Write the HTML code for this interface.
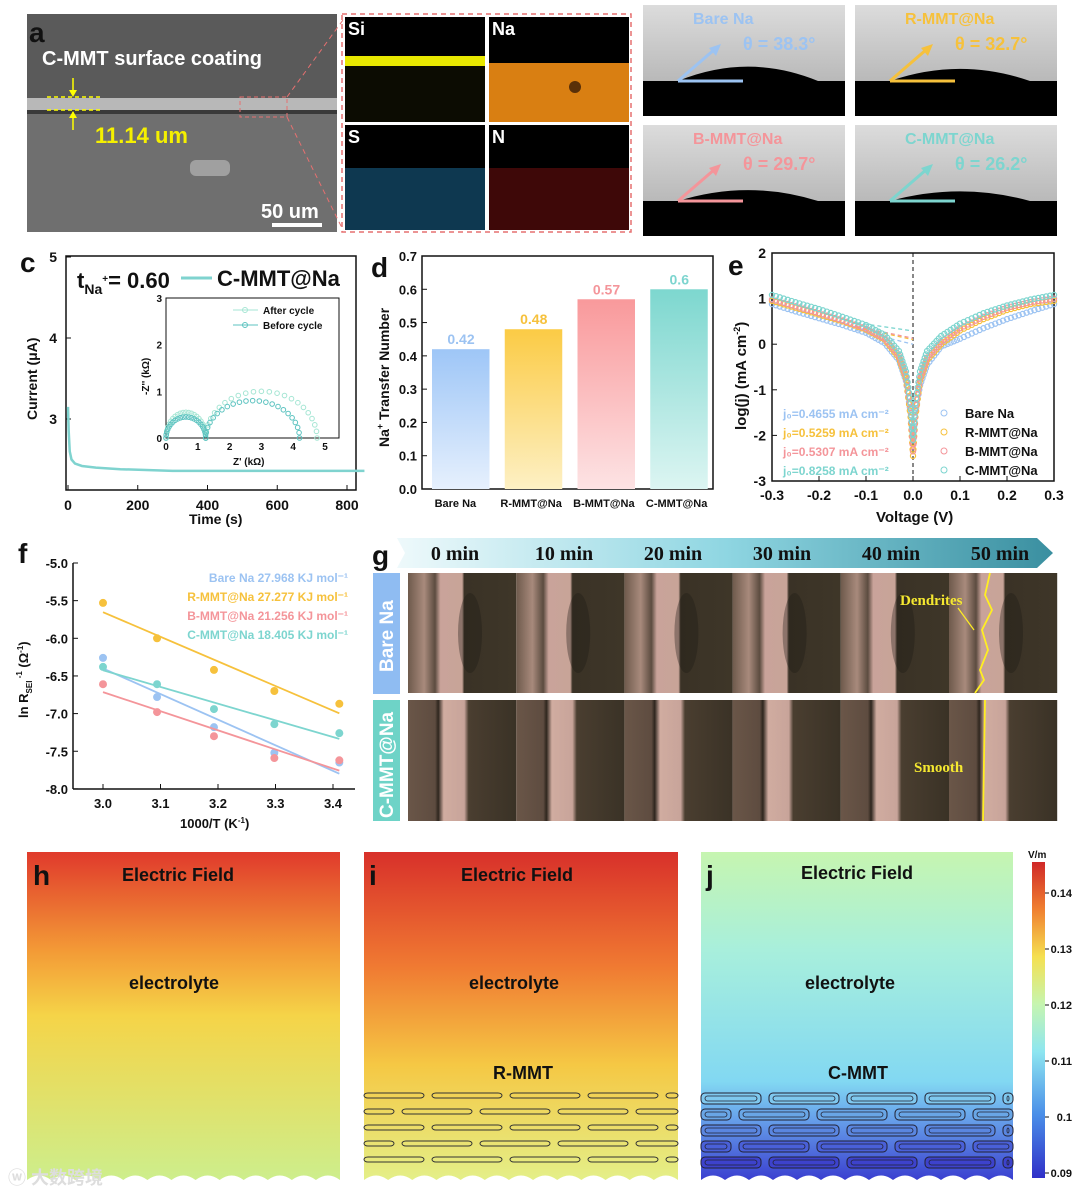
<!DOCTYPE html>
<html><head><meta charset="utf-8">
<style>
html,body{margin:0;padding:0;background:#fff;}
#root{position:relative;width:1080px;height:1195px;overflow:hidden;}
svg text{font-family:"Liberation Sans",sans-serif;font-weight:bold;}
.ser{font-family:"Liberation Serif",serif !important;}
</style></head>
<body>
<div id="root">
<svg id="svg" width="1080" height="1195" viewBox="0 0 1080 1195" xmlns="http://www.w3.org/2000/svg">
<defs>
 <linearGradient id="gBlue" x1="0" y1="0" x2="0" y2="1"><stop offset="0" stop-color="#9ec6f7"/><stop offset="1" stop-color="#e6f0fd"/></linearGradient>
 <linearGradient id="gYel" x1="0" y1="0" x2="0" y2="1"><stop offset="0" stop-color="#fbcb45"/><stop offset="1" stop-color="#fdf0c4"/></linearGradient>
 <linearGradient id="gPink" x1="0" y1="0" x2="0" y2="1"><stop offset="0" stop-color="#f9999b"/><stop offset="1" stop-color="#fde3e4"/></linearGradient>
 <linearGradient id="gTeal" x1="0" y1="0" x2="0" y2="1"><stop offset="0" stop-color="#7dd7cf"/><stop offset="1" stop-color="#dcf5f2"/></linearGradient>
 <linearGradient id="gH" x1="0" y1="0" x2="0" y2="1"><stop offset="0" stop-color="#e03a2c"/><stop offset="0.3" stop-color="#f39a36"/><stop offset="0.5" stop-color="#f5d448"/><stop offset="1" stop-color="#cdee8c"/></linearGradient>
 <linearGradient id="gI" x1="0" y1="0" x2="0" y2="1"><stop offset="0" stop-color="#d8302a"/><stop offset="0.35" stop-color="#f07a32"/><stop offset="0.65" stop-color="#f5c844"/><stop offset="1" stop-color="#e4ef88"/></linearGradient>
 <linearGradient id="gJ" x1="0" y1="0" x2="0" y2="1"><stop offset="0" stop-color="#c6f5b0"/><stop offset="0.3" stop-color="#a8efdc"/><stop offset="0.7" stop-color="#82d8f2"/><stop offset="0.8" stop-color="#6aa8ec"/><stop offset="1" stop-color="#3a3fd0"/></linearGradient>
 <linearGradient id="gCB" x1="0" y1="1" x2="0" y2="0"><stop offset="0" stop-color="#3030c8"/><stop offset="0.2" stop-color="#4a8ee8"/><stop offset="0.4" stop-color="#8ee6f0"/><stop offset="0.55" stop-color="#c6f5b0"/><stop offset="0.7" stop-color="#f5e050"/><stop offset="0.85" stop-color="#f08030"/><stop offset="1" stop-color="#d02828"/></linearGradient>
 <linearGradient id="gArrow" x1="0" y1="0" x2="1" y2="0"><stop offset="0" stop-color="#eef9fb"/><stop offset="0.5" stop-color="#8fd6e2"/><stop offset="1" stop-color="#3a8fa0"/></linearGradient>
 <linearGradient id="gB" x1="0" y1="0" x2="0" y2="1"><stop offset="0" stop-color="#dcdcdc"/><stop offset="1" stop-color="#a9a9a9"/></linearGradient>
 <linearGradient id="gFrame" x1="0" y1="0" x2="1" y2="0"><stop offset="0" stop-color="#6e5a4c"/><stop offset="0.15" stop-color="#a88a7c"/><stop offset="0.25" stop-color="#5c4c40"/><stop offset="0.3" stop-color="#c9a39a"/><stop offset="0.5" stop-color="#c8a498"/><stop offset="0.52" stop-color="#3a3226"/><stop offset="1" stop-color="#3e3628"/></linearGradient>
 <linearGradient id="gFrame2" x1="0" y1="0" x2="1" y2="0"><stop offset="0" stop-color="#6a5648"/><stop offset="0.25" stop-color="#5e4c40"/><stop offset="0.28" stop-color="#2e261e"/><stop offset="0.33" stop-color="#d0aca0"/><stop offset="0.52" stop-color="#c8a49a"/><stop offset="0.56" stop-color="#4a3e30"/><stop offset="1" stop-color="#3a3226"/></linearGradient>
</defs>

<g>
 <rect x="27" y="14" width="310" height="218" fill="#6f6f6f"/>
 <rect x="27" y="14" width="310" height="84" fill="#5a5a5a"/>
 <rect x="27" y="98" width="310" height="12" fill="#b8b8b8"/>
 <rect x="27" y="110" width="310" height="4" fill="#3a3a3a"/>
 <rect x="190" y="160" width="40" height="16" fill="#a0a0a0" rx="6"/>
 <text x="29" y="42" font-size="28" fill="#111">a</text>
 <text x="42" y="65" font-size="20" fill="#fff">C-MMT surface coating</text>
 <line x1="47" y1="97" x2="100" y2="97" stroke="#ff0" stroke-width="1.5" stroke-dasharray="4,3"/>
 <line x1="47" y1="110" x2="100" y2="110" stroke="#ff0" stroke-width="1.5" stroke-dasharray="4,3"/>
 <line x1="73" y1="78" x2="73" y2="95" stroke="#ff0" stroke-width="1.5"/><path d="M69,90 L73,97 L77,90Z" fill="#ff0"/>
 <line x1="73" y1="112" x2="73" y2="130" stroke="#ff0" stroke-width="1.5"/><path d="M69,118 L73,111 L77,118Z" fill="#ff0"/>
 <text x="95" y="143" font-size="22" fill="#f5f000">11.14 um</text>
 <text x="261" y="218" font-size="20" fill="#fff">50 um</text>
 <rect x="272" y="223" width="50" height="4" fill="#fff"/>
 <rect x="240" y="97" width="47" height="20" fill="none" stroke="#e67070" stroke-dasharray="4,3"/>
 <line x1="287" y1="97" x2="343" y2="20" stroke="#e67070" stroke-dasharray="5,4"/>
 <line x1="287" y1="117" x2="343" y2="230" stroke="#e67070" stroke-dasharray="5,4"/>
 <rect x="342" y="14" width="289" height="218" fill="none" stroke="#e67070" stroke-width="1.5" stroke-dasharray="5,4"/>
 <rect x="345" y="17" width="140" height="105" fill="#000"/>
 <rect x="345" y="56" width="140" height="10" fill="#e8e800"/>
 <rect x="345" y="66" width="140" height="56" fill="#0c0c02"/>
 <rect x="489" y="17" width="140" height="105" fill="#000"/>
 <rect x="489" y="63" width="140" height="59" fill="#d97f12"/>
 <circle cx="575" cy="87" r="6" fill="#5a3008"/>
 <rect x="345" y="125" width="140" height="105" fill="#000"/>
 <rect x="345" y="168" width="140" height="62" fill="#0e3850"/>
 <rect x="489" y="125" width="140" height="105" fill="#000"/>
 <rect x="489" y="168" width="140" height="62" fill="#3e0808"/>
 <text x="348" y="35" font-size="18" fill="#fff">Si</text>
 <text x="492" y="35" font-size="18" fill="#fff">Na</text>
 <text x="348" y="143" font-size="18" fill="#fff">S</text>
 <text x="492" y="143" font-size="18" fill="#fff">N</text>
</g>

<g>
 <text x="648" y="30" font-size="28" fill="#111">b</text>
 <g id="bTiles"></g>
</g>

<g>
 <text x="20" y="272" font-size="28" fill="#111">c</text>
 <rect x="66" y="256" width="290" height="234" fill="none" stroke="#111" stroke-width="1.5"/>
 <g id="cAxes"></g>
 <text x="77" y="288" font-size="22" fill="#111">t<tspan font-size="14" dy="6">Na</tspan><tspan font-size="10" dy="-12">+</tspan><tspan dy="6">= 0.60</tspan></text>
 <line x1="181" y1="278" x2="212" y2="278" stroke="#7fd3cf" stroke-width="3"/>
 <text x="217" y="286" font-size="22" fill="#111">C-MMT@Na</text>
 <text x="189" y="524" font-size="14" fill="#111">Time (s)</text>
 <text transform="translate(37,420) rotate(-90)" font-size="14" fill="#111">Current (μA)</text>
 <rect x="166" y="298" width="173" height="140" fill="#fff" stroke="#111"/>
 <text x="233" y="465" font-size="10" fill="#111">Z'  (kΩ)</text>
 <text transform="translate(149,395) rotate(-90)" font-size="10" fill="#111">-Z''  (kΩ)</text>
 <line x1="233" y1="310" x2="258" y2="310" stroke="#a6e6d4"/><circle cx="245" cy="310" r="2.5" fill="none" stroke="#a6e6d4"/>
 <text x="263" y="314" font-size="10" fill="#111">After cycle</text>
 <line x1="233" y1="325" x2="258" y2="325" stroke="#5cc3c0"/><circle cx="245" cy="325" r="2.5" fill="none" stroke="#5cc3c0"/>
 <text x="263" y="329" font-size="10" fill="#111">Before cycle</text>
</g>

<g>
 <text x="371" y="277" font-size="28" fill="#111">d</text>
 <rect x="422" y="256" width="291" height="233" fill="none" stroke="#111" stroke-width="1.5"/>
 <text transform="translate(389,447) rotate(-90)" font-size="14" fill="#111">Na<tspan font-size="9" dy="-6">+</tspan><tspan dy="6"> Transfer Number</tspan></text>
</g>

<g>
 <text x="728" y="275" font-size="28" fill="#111">e</text>
 <rect x="772" y="253" width="282" height="228" fill="none" stroke="#111" stroke-width="1.5"/>
 <text x="876" y="522" font-size="15" fill="#111">Voltage (V)</text>
 <text transform="translate(746,430) rotate(-90)" font-size="15" fill="#111">log(j) (mA cm<tspan font-size="9" dy="-6">-2</tspan><tspan dy="6">)</tspan></text>
</g>

<g>
 <text x="18" y="563" font-size="28" fill="#111">f</text>
 <line x1="73" y1="563" x2="73" y2="789" stroke="#111" stroke-width="1.5"/>
 <line x1="73" y1="789" x2="355" y2="789" stroke="#111" stroke-width="1.5"/>
 <text x="180" y="828" font-size="13" fill="#111">1000/T (K<tspan font-size="8" dy="-5">-1</tspan><tspan dy="5">)</tspan></text>
 <text transform="translate(28,718) rotate(-90)" font-size="13" fill="#111">ln R<tspan font-size="8" dy="4">SEI</tspan><tspan font-size="8" dy="-10"> -1</tspan><tspan dy="6"> (Ω</tspan><tspan font-size="8" dy="-5">-1</tspan><tspan dy="5">)</tspan></text>
</g>

<g>
 <text x="372" y="565" font-size="28" fill="#111">g</text>
 <path d="M397,538 L1037,538 L1053,553 L1037,568 L397,568 L405,553 Z" fill="url(#gArrow)"/>
 <g id="gLabels"></g>
 <rect x="373" y="573" width="27" height="121" fill="#8fbcf2"/>
 <text transform="translate(393,672) rotate(-90)" font-size="19" fill="#fff">Bare Na</text>
 <rect x="373" y="700" width="27" height="121" fill="#6ed3c7"/>
 <text transform="translate(393,818) rotate(-90)" font-size="19" fill="#fff">C-MMT@Na</text>
 <g id="gFrames"></g>
 <path d="M990,573 L985,595 L992,610 L982,630 L988,650 L980,670 L984,680 L975,693" fill="none" stroke="#ffee22" stroke-width="1.8"/>
 <line x1="985" y1="700" x2="983" y2="821" stroke="#ffee22" stroke-width="1.8"/>
 <line x1="958" y1="608" x2="974" y2="630" stroke="#ffee22" stroke-width="1.2"/>
 <text x="900" y="605" font-size="15" fill="#f5e830" class="ser">Dendrites</text>
 <text x="914" y="772" font-size="15" fill="#f5e830" class="ser">Smooth</text>
</g>

<g>
 <path id="hBox" d="" fill="url(#gH)"/>
 <text x="33" y="885" font-size="28" fill="#111">h</text>
 <text x="122" y="881" font-size="18" fill="#111">Electric Field</text>
 <text x="129" y="989" font-size="18" fill="#111">electrolyte</text>
</g>
<g>
 <path id="iBox" d="" fill="url(#gI)"/>
 <g id="iRects"></g>
 <text x="369" y="885" font-size="28" fill="#111">i</text>
 <text x="461" y="881" font-size="18" fill="#111">Electric Field</text>
 <text x="469" y="989" font-size="18" fill="#111">electrolyte</text>
 <text x="493" y="1079" font-size="18" fill="#111">R-MMT</text>
</g>
<g>
 <path id="jBox" d="" fill="url(#gJ)"/>
 <g id="jRects"></g>
 <text x="706" y="885" font-size="28" fill="#111">j</text>
 <text x="801" y="879" font-size="18" fill="#111">Electric Field</text>
 <text x="805" y="989" font-size="18" fill="#111">electrolyte</text>
 <text x="828" y="1079" font-size="18" fill="#111">C-MMT</text>
 <rect x="1032" y="862" width="13" height="316" fill="url(#gCB)"/>
 <text x="1028" y="858" font-size="10" fill="#111">V/m</text>
 <g id="cbTicks"></g>
</g>
<text x="8" y="1184" font-size="18" fill="#ddd" font-weight="normal" style="font-family:'Liberation Sans','Noto Sans CJK SC',sans-serif">ⓦ 大数跨境</text>
</svg>
</div>

<script>
const cTime = [0, 2, 5, 10, 20, 40, 80, 150, 300, 500, 700, 850];
const cCurrent = [3.15, 2.85, 2.6, 2.5, 2.45, 2.42, 2.4, 2.38, 2.36, 2.36, 2.36, 2.36];
const eisArcsBefore = [[0, 1.25, 0.45], [1.25, 4.2, 0.8]];
const eisArcsAfter = [[0, 1.25, 0.55], [1.25, 4.75, 1.0]];
const dCategories = ["Bare Na", "R-MMT@Na", "B-MMT@Na", "C-MMT@Na"];
const dValues = [0.42, 0.48, 0.57, 0.6];
const dTicks = [0, 0.1, 0.2, 0.3, 0.4, 0.5, 0.6, 0.7];
const eVolt = [-0.3,-0.25,-0.2,-0.15,-0.1,-0.06,-0.03,-0.015,-0.005,0,0.005,0.015,0.03,0.06,0.1,0.15,0.2,0.25,0.3];
const eBare = [0.88,0.72,0.57,0.42,0.25,0.02,-0.35,-0.8,-1.5,-2.1,-1.5,-0.9,-0.45,-0.05,0.12,0.35,0.55,0.72,0.88];
const eR    = [0.95,0.8,0.65,0.5,0.32,0.1,-0.3,-0.75,-1.6,-2.45,-1.6,-0.8,-0.35,0.0,0.3,0.55,0.75,0.88,0.95];
const eB    = [0.98,0.83,0.68,0.52,0.34,0.12,-0.25,-0.7,-1.4,-2.35,-1.45,-0.75,-0.3,0.05,0.35,0.6,0.8,0.92,1.0];
const eC    = [1.08,0.92,0.77,0.6,0.42,0.2,-0.15,-0.6,-1.3,-2.1,-1.3,-0.6,-0.15,0.18,0.45,0.68,0.85,0.98,1.08];
const eJ0 = ["0.4655", "0.5259", "0.5307", "0.8258"];
const eTangent0 = [0.0, 0.1, 0.13, 0.29];
const fX = [3.0, 3.094, 3.193, 3.298, 3.411];
const fBare = [-6.26, -6.78, -7.18, -7.52, -7.65];
const fR = [-5.53, -6.0, -6.42, -6.7, -6.87];
const fB = [-6.61, -6.98, -7.3, -7.59, -7.62];
const fC = [-6.38, -6.61, -6.94, -7.14, -7.26];
const fEa = ["27.968", "27.277", "21.256", "18.405"];
const bAngles = ["38.3", "32.7", "29.7", "26.2"];
const gTimes = ["0 min", "10 min", "20 min", "30 min", "40 min", "50 min"];
const cbTicks = [0.14, 0.13, 0.12, 0.11, 0.1, 0.09];

const names = ["Bare Na","R-MMT@Na","B-MMT@Na","C-MMT@Na"];
const cols = ["#9cc3f2","#f6c13c","#f4959a","#7dd5cf"];
const NS = "http://www.w3.org/2000/svg";
function mk(tag, attrs, parent, txt){
  const el = document.createElementNS(NS, tag);
  for (const k in attrs) el.setAttribute(k, attrs[k]);
  if (txt !== undefined) el.textContent = txt;
  (parent || document.getElementById('svg')).appendChild(el);
  return el;
}

const bPos = [[643,5],[855,5],[643,125],[855,125]];
bPos.forEach((p,i)=>{
  const g = document.getElementById('bTiles');
  const w=202, h=111;
  const r = mk('rect',{x:p[0],y:p[1],width:w,height:h,fill:'url(#gB)'},g);
  
  
  const base = p[1]+76;
  const a = bAngles[i]*Math.PI/180;
  const hy = 55*Math.tan(a/2);
  mk('path',{d:`M${p[0]+35},${base} Q${p[0]+105},${base-hy*1.5} ${p[0]+175},${base} Z`,fill:'#000'},g);
  mk('rect',{x:p[0],y:base,width:w,height:h-(base-p[1]),fill:'#000'},g);
  mk('line',{x1:p[0]+35,y1:base,x2:p[0]+100,y2:base,stroke:cols[i],'stroke-width':3},g);
  mk('line',{x1:p[0]+35,y1:base,x2:p[0]+72,y2:base-32,stroke:cols[i],'stroke-width':3},g);
  mk('path',{d:`M${p[0]+78},${base-37} L${p[0]+66},${base-33} L${p[0]+73},${base-25}Z`,fill:cols[i]},g);
  mk('text',{x:p[0]+50,y:p[1]+19,'font-size':16,fill:cols[i],'font-weight':'normal'},g,names[i]);
  mk('text',{x:p[0]+100,y:p[1]+45,'font-size':18,fill:cols[i],'font-weight':'normal'},g,'θ = '+bAngles[i]+'°');
});

const cx = t => 68 + t*(279/800);
const cy = v => 257 + (5-v)*81;
const cAx = document.getElementById('cAxes');
[0,200,400,600,800].forEach(t=>{
  mk('line',{x1:cx(t),y1:490,x2:cx(t),y2:485,stroke:'#111'},cAx);
  mk('text',{x:cx(t),y:510,'font-size':14,'text-anchor':'middle',fill:'#111'},cAx,t);
});
[3,4,5].forEach(v=>{
  mk('line',{x1:66,y1:cy(v),x2:71,y2:cy(v),stroke:'#111'},cAx);
  mk('text',{x:57,y:cy(v)+5,'font-size':14,'text-anchor':'end',fill:'#111'},cAx,v);
});
const cLine = mk('polyline',{points:cTime.map((t,i)=>cx(t)+','+cy(cCurrent[i])).join(' '),fill:'none',stroke:'#7fd3cf','stroke-width':2.5});


const ix = z => 166 + z*31.8;
const iy = z => 438 - z*46.7;
[0,1,2,3,4,5].forEach(z=>mk('text',{x:ix(z),y:450,'font-size':10,'text-anchor':'middle',fill:'#111'},cAx,z));
[0,1,2,3].forEach(z=>mk('text',{x:162,y:iy(z)+4,'font-size':10,'text-anchor':'end',fill:'#111'},cAx,z));
function drawArcs(arcs,color,name){
  arcs.forEach(a=>{
    const n=22;
    for(let k=0;k<=n;k++){
      const th=Math.PI*k/n;
      const zr=(a[0]+a[1])/2 - (a[1]-a[0])/2*Math.cos(th);
      const zi=a[2]*Math.sin(th);
      const c=mk('circle',{cx:ix(zr),cy:iy(zi),r:2.3,fill:'none',stroke:color,'stroke-width':1});
      
      
    }
  });
}
drawArcs(eisArcsAfter,'#a6e6d4','eis-after-point');
drawArcs(eisArcsBefore,'#5cc3c0','eis-before-point');

const dy = v => 489 - v*(233/0.7);
const band = 291/4;
dTicks.forEach(t=>{
  mk('line',{x1:422,y1:dy(t),x2:427,y2:dy(t),stroke:'#111'});
  mk('text',{x:417,y:dy(t)+5,'font-size':13,'text-anchor':'end',fill:'#111'},null,t.toFixed(1));
});
const dFills=['url(#gBlue)','url(#gYel)','url(#gPink)','url(#gTeal)'];
dCategories.forEach((c,i)=>{
  const x0 = 422 + band*i + 10;
  const b = mk('rect',{x:x0,y:dy(dValues[i]),width:57.5,height:489-dy(dValues[i]),fill:dFills[i]});
  
  
  mk('text',{x:x0+29,y:dy(dValues[i])-5,'font-size':14,'text-anchor':'middle',fill:cols[i]},null,String(dValues[i]));
  mk('text',{x:422+band*(i+0.5)+(i==0?-3:0),y:507,'font-size':11,'text-anchor':'middle',fill:'#111'},null,c);
});

const ex = v => 772 + (v+0.3)*(282/0.6);
const ey = v => 253 + (2-v)*(228/5);
[-0.3,-0.2,-0.1,0,0.1,0.2,0.3].forEach(v=>{
  mk('line',{x1:ex(v),y1:481,x2:ex(v),y2:476,stroke:'#111'});
  mk('text',{x:ex(v),y:500,'font-size':14,'text-anchor':'middle',fill:'#111'},null,v.toFixed(1));
});
[2,1,0,-1,-2,-3].forEach(v=>{
  mk('line',{x1:772,y1:ey(v),x2:777,y2:ey(v),stroke:'#111'});
  mk('text',{x:766,y:ey(v)+5,'font-size':14,'text-anchor':'end',fill:'#111'},null,v);
});
mk('line',{x1:ex(0),y1:253,x2:ex(0),y2:481,stroke:'#111','stroke-dasharray':'4,3'});
[eBare,eR,eB,eC].forEach((s,si)=>{
  const pts=[];
  for(let i=0;i<eVolt.length-1;i++){
    for(let k=0;k<6;k++){
      const f=k/6;
      pts.push([eVolt[i]+(eVolt[i+1]-eVolt[i])*f, s[i]+(s[i+1]-s[i])*f]);
    }
  }
  pts.push([eVolt[eVolt.length-1],s[s.length-1]]);
  pts.forEach(p=>{
    const c=mk('circle',{cx:ex(p[0]),cy:ey(p[1]),r:2.6,fill:'none',stroke:cols[si],'stroke-width':1.2});
    
    
  });
  mk('line',{x1:ex(-0.12),y1:ey(s[4]+0.05),x2:ex(0),y2:ey(eTangent0[si]),stroke:cols[si],'stroke-dasharray':'4,3','stroke-width':1.3});
  mk('text',{x:783,y:418+si*19,'font-size':12,fill:cols[si]},null,'j₀='+eJ0[si]+' mA cm⁻²');
  mk('circle',{cx:944,cy:413+si*19,r:3,fill:'none',stroke:cols[si]});
  const lt=mk('text',{x:965,y:418+si*19,'font-size':13,fill:'#111'},null,names[si]);
  
  
});

const fxs = v => 103 + (v-3.0)*575;
const fys = v => 563 + (-5-v)*75.3;
[-5.0,-5.5,-6.0,-6.5,-7.0,-7.5,-8.0].forEach(v=>{
  mk('line',{x1:73,y1:fys(v),x2:78,y2:fys(v),stroke:'#111'});
  mk('text',{x:68,y:fys(v)+5,'font-size':13,'text-anchor':'end',fill:'#111'},null,v.toFixed(1));
});
[3.0,3.1,3.2,3.3,3.4].forEach(v=>{
  mk('line',{x1:fxs(v),y1:789,x2:fxs(v),y2:784,stroke:'#111'});
  mk('text',{x:fxs(v),y:808,'font-size':13,'text-anchor':'middle',fill:'#111'},null,v.toFixed(1));
});
[fBare,fR,fB,fC].forEach((s,si)=>{
  const n=fX.length; let mx=0,my=0;
  fX.forEach((x,i)=>{mx+=x;my+=s[i];}); mx/=n; my/=n;
  let sxy=0,sxx=0; fX.forEach((x,i)=>{sxy+=(x-mx)*(s[i]-my);sxx+=(x-mx)*(x-mx);});
  const k=sxy/sxx, b=my-k*mx;
  const fl=mk('line',{x1:fxs(fX[0]),y1:fys(k*fX[0]+b),x2:fxs(fX[n-1]),y2:fys(k*fX[n-1]+b),stroke:cols[si],'stroke-width':1.8});
  
  
  fX.forEach((x,i)=>{
    const c=mk('circle',{cx:fxs(x),cy:fys(s[i]),r:4,fill:cols[si]});
    
    
  });
  mk('text',{x:348,y:582+si*19,'font-size':12,'text-anchor':'end',fill:cols[si]},null,names[si]+' '+fEa[si]+' KJ mol⁻¹');
});

const gl=document.getElementById('gLabels');
gTimes.forEach((t,i)=>{
  const tx=mk('text',{x:455+i*109,y:560,'font-size':20,'text-anchor':'middle',fill:'#111',class:'ser'},gl,t);
  
  
});
const gf=document.getElementById('gFrames');
for(let i=0;i<6;i++){
  const x=408+i*108.2;
  const f1=mk('rect',{x:x,y:573,width:108.2,height:121,fill:'url(#gFrame)'},gf);
  
  
  mk('ellipse',{cx:x+62,cy:633,rx:12,ry:40,fill:'#1e1a14',opacity:0.35},gf);
  const f2=mk('rect',{x:x,y:700,width:108.2,height:121,fill:'url(#gFrame2)'},gf);
  
  
}
mk('rect',{x:408,y:693,width:650,height:7,fill:'#fff'},gf);

function boxPath(x0,y0,w,h){
  let d=`M${x0},${y0} L${x0+w},${y0} L${x0+w},${y0+h}`;
  const n=13, seg=w/n;
  for(let k=n;k>0;k--){ d+=` Q${x0+(k-0.5)*seg},${y0+h-9} ${x0+(k-1)*seg},${y0+h}`; }
  return d+' Z';
}
document.getElementById('hBox').setAttribute('d',boxPath(27,852,313,328));
document.getElementById('iBox').setAttribute('d',boxPath(364,852,314,328));
document.getElementById('jBox').setAttribute('d',boxPath(701,852,312,328));
function layers(gid,x0,w,stroke,fills){
  const g=document.getElementById(gid);
  const rows=[1093,1109,1125,1141,1157];
  rows.forEach((y,ri)=>{
    const off = ri%2 ? -40 : -10;
    for(let x=x0+off; x<x0+w; x+=78){
      const xs=Math.max(x,x0), xe=Math.min(x+70,x0+w);
      if(xe-xs<4) continue;
      const r=mk('rect',{x:xs,y:y,width:xe-xs,height:fills?11:5,rx:4,fill:fills?fills[ri]:'none',stroke:stroke,'stroke-width':1},g);
      
      
      if(fills) mk('rect',{x:xs+4,y:y+3,width:Math.max(xe-xs-8,1),height:5,rx:2.5,fill:'none',stroke:stroke,'stroke-width':0.8},g);
    }
  });
}
layers('iRects',364,314,'#333',null);
layers('jRects',701,312,'#223',['#7fc8ee','#69a6e6','#5a86e0','#4a60d8','#3d42cc']);
const cbg=document.getElementById('cbTicks');
cbTicks.forEach(v=>{
  const y=1173 - (v-0.09)/0.05*280;
  mk('line',{x1:1045,y1:y,x2:1049,y2:y,stroke:'#111'},cbg);
  mk('text',{x:1072,y:y+4,'font-size':11,'text-anchor':'end',fill:'#111'},cbg,String(v));
});
</script>
</body></html>
